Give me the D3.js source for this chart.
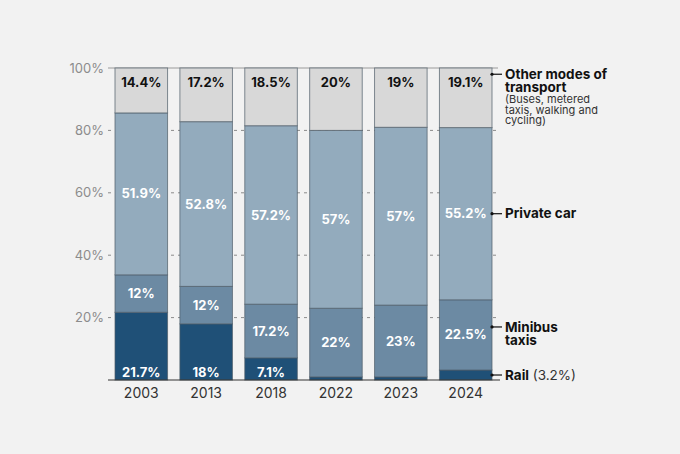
<!DOCTYPE html>
<html>
<head>
<meta charset="utf-8">
<script src="https://cdn.jsdelivr.net/npm/d3@7"></script>
<style>
  html, body { margin: 0; padding: 0; background: #f2f2f2; }
  svg { display: block; font-family: Inter, "Noto Sans", sans-serif; }
</style>
</head>
<body>
<script>
const years = ["2003", "2013", "2018", "2022", "2023", "2024"];
const rail = [21.7, 18, 7.1, 1, 1, 3.2];
const minibus = [12, 12, 17.2, 22, 23, 22.5];
const privateCar = [51.9, 52.8, 57.2, 57, 57, 55.2];
const other = [14.4, 17.2, 18.5, 20, 19, 19.1];
const yTicks = [0, 20, 40, 60, 80, 100];

const width = 680;
const height = 454;

const series = [
  {key: "rail", values: rail, fill: "#1f5077", text: "#ffffff"},
  {key: "minibus", values: minibus, fill: "#6c8aa3", text: "#ffffff"},
  {key: "private", values: privateCar, fill: "#93abbd", text: "#ffffff"},
  {key: "other", values: other, fill: "#d8d8d8", text: "#111111"}
];

// stack the segments bottom-up
const rows = years.map((yr, i) => {
  let base = 0;
  return series.map((s) => {
    const seg = {year: yr, key: s.key, v: s.values[i], y0: base, y1: base + s.values[i], s: s};
    base += s.values[i];
    return seg;
  });
});

const x = d3.scaleBand().domain(years).range([115, 492]).paddingInner(0.19).paddingOuter(0);
const y = d3.scaleLinear().domain([0, 100]).range([380, 68]);

const svg = d3.select("body").append("svg")
  .attr("width", width)
  .attr("height", height);

// gridlines
svg.append("g")
  .selectAll("line")
  .data(yTicks.filter((t) => t > 0 && t < 100))
  .enter()
  .append("line")
  .attr("x1", 108)
  .attr("x2", 498)
  .attr("y1", (d) => y(d))
  .attr("y2", (d) => y(d))
  .attr("stroke", "#8a8a8a")
  .attr("stroke-width", 1)
  .attr("stroke-dasharray", "3,4");

svg.append("line")
  .attr("x1", 108).attr("x2", 498)
  .attr("y1", y(100)).attr("y2", y(100))
  .attr("stroke", "#9a9a9a");

// y labels
svg.append("g")
  .selectAll("text")
  .data(yTicks.filter((t) => t > 0))
  .enter()
  .append("text")
  .attr("x", 104)
  .attr("y", (d) => y(d))
  .attr("dy", "0.35em")
  .attr("text-anchor", "end")
  .attr("fill", "#8c8c8c")
  .attr("font-size", 13)
  .text((d) => d + "%");

// bars
const groups = svg.append("g")
  .selectAll("g")
  .data(rows)
  .enter()
  .append("g");

groups.selectAll("rect")
  .data((d) => d)
  .enter()
  .append("rect")
  .attr("x", (d) => x(d.year))
  .attr("width", x.bandwidth())
  .attr("y", (d) => y(d.y1))
  .attr("height", (d) => y(d.y0) - y(d.y1))
  .attr("fill", (d) => d.s.fill)
  .attr("stroke", "#4f5d68")
  .attr("stroke-opacity", 0.7)
  .attr("stroke-width", 1);

// value labels (small rail slices are labelled in the legend instead)
const labelY = (d) => {
  if (d.key === "other") return y(100) + 14;
  if (d.key === "rail") return y(0) - 8;
  return y((d.y0 + d.y1) / 2);
};

groups.selectAll("text")
  .data((d) => d.filter((seg) => seg.v > 5))
  .enter()
  .append("text")
  .attr("x", (d) => x(d.year) + x.bandwidth() / 2)
  .attr("y", labelY)
  .attr("dy", "0.35em")
  .attr("text-anchor", "middle")
  .attr("font-size", 13)
  .attr("font-weight", 700)
  .attr("fill", (d) => d.s.text)
  .text((d) => d.v + "%");

// baseline
svg.append("line")
  .attr("x1", 108).attr("x2", 500)
  .attr("y1", y(0)).attr("y2", y(0))
  .attr("stroke", "#333")
  .attr("stroke-width", 1.2);

// year labels
svg.append("g")
  .selectAll("text")
  .data(years)
  .enter()
  .append("text")
  .attr("x", (d) => x(d) + x.bandwidth() / 2)
  .attr("y", 393)
  .attr("dy", "0.35em")
  .attr("text-anchor", "middle")
  .attr("fill", "#333")
  .attr("font-size", 14)
  .text((d) => d);

// legend on the right, pointing at the 2024 bar
const last = rows[rows.length - 1];
const barRight = x(years[years.length - 1]) + x.bandwidth();
const legend = [
  {yv: 98, lines: ["Other modes of", "transport"], sub: ["(Buses, metered", "taxis, walking and", "cycling)"]},
  {yv: (last[2].y0 + last[2].y1) / 2, lines: ["Private car"], sub: []},
  {yv: 17, lines: ["Minibus", "taxis"], sub: []},
  {yv: last[0].v / 2, lines: ["Rail"], sub: [], extra: " (3.2%)"}
];

const lg = svg.append("g")
  .selectAll("g")
  .data(legend)
  .enter()
  .append("g")
  .attr("transform", (d) => `translate(${barRight}, ${y(d.yv)})`);

lg.append("circle").attr("r", 1.6).attr("fill", "#111");
lg.append("line").attr("x1", 0).attr("x2", 10).attr("stroke", "#111").attr("stroke-width", 1.2);

lg.each(function (d) {
  const g = d3.select(this);
  d.lines.forEach((ln, i) => {
    const t = g.append("text")
      .attr("x", 13)
      .attr("y", i * 13.3)
      .attr("dy", "0.35em")
      .attr("font-size", 13.5)
      .attr("font-weight", 700)
      .attr("fill", "#111")
      .text(ln);
    if (d.extra && i === 0) {
      t.append("tspan").attr("font-weight", 400).attr("fill", "#333").text(d.extra);
    }
  });
  d.sub.forEach((ln, i) => {
    g.append("text")
      .attr("x", 13)
      .attr("y", 29 + i * 10.3)
      .attr("font-size", 11)
      .attr("fill", "#333")
      .text(ln);
  });
});
</script>
</body>
</html>
